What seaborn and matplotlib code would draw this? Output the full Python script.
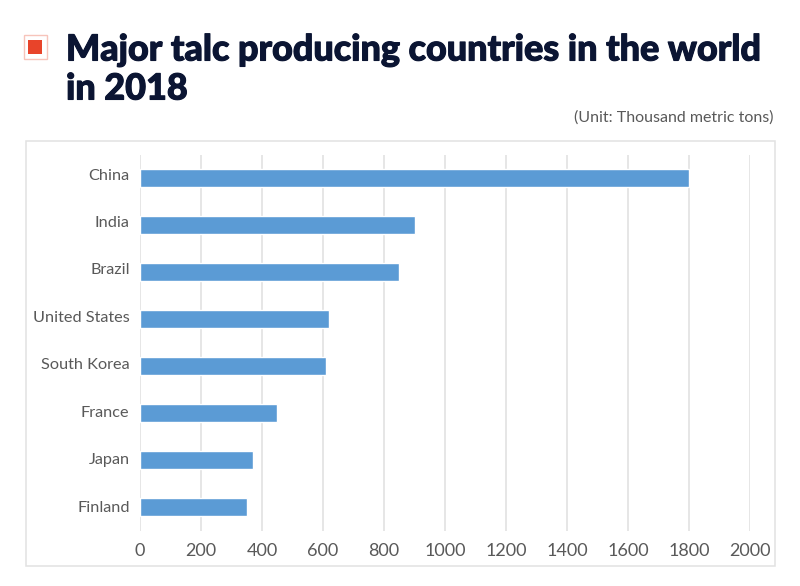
import matplotlib
matplotlib.use("Agg")
import matplotlib.pyplot as plt
from matplotlib.patches import Rectangle
from matplotlib.transforms import ScaledTranslation
import matplotlib.patheffects as pe
import pandas as pd
import seaborn as sns

# values
countries = ["China", "India", "Brazil", "United States", "South Korea", "France", "Japan", "Finland"]
production = [1800, 900, 850, 620, 610, 450, 370, 350]
x_ticks = [0, 200, 400, 600, 800, 1000, 1200, 1400, 1600, 1800, 2000]

W, H = 800, 586
df = pd.DataFrame({"Country": countries, "Production": production})

sns.set_theme(style="whitegrid")
plt.rcParams["font.family"] = ["Lato", "DejaVu Sans"]

fig = plt.figure(figsize=(8, 5.86), dpi=100, facecolor="white")
ax = fig.add_axes([140 / W, 1 - 530.5 / H, 610 / W, 376 / H])

sns.barplot(x="Production", y="Country", data=df, color="#5b9bd5", saturation=1, width=0.4, ax=ax, zorder=3)

ax.set_xlim(0, 2000)
ax.set_xticks(x_ticks)
ax.set_xlabel("")
ax.set_ylabel("")
ax.grid(axis="y", visible=False)
ax.grid(axis="x", color="#e2e2e2", linewidth=1.2)
ax.set_axisbelow(True)
sns.despine(ax=ax, left=True, bottom=True, right=True, top=True)
ax.tick_params(axis="x", labelsize=13, labelcolor="#595959", length=0, pad=9)
ax.tick_params(axis="y", labelsize=11.7, labelcolor="#595959", length=0, pad=7.5)

# country names sit above the bar centres, less so further down
for i, lab in enumerate(ax.get_yticklabels()):
    nudge = ScaledTranslation(0, (4 - 3 * i / 7) / 100, fig.dpi_scale_trans)
    lab.set_transform(lab.get_transform() + nudge)

# outer chart frame
fig.add_artist(Rectangle((25.5 / W, 1 - 566 / H), 749.5 / W, 425.5 / H, fill=False,
                         edgecolor="#e2e2e2", linewidth=1.1, transform=fig.transFigure))

# title marker
fig.add_artist(Rectangle((23.5 / W, 1 - 58.5 / H), 23 / W, 23 / H, fill=False,
                         edgecolor="#f7c4bb", linewidth=1, transform=fig.transFigure))
fig.add_artist(Rectangle((28 / W, 1 - 54 / H), 14 / W, 14 / H, facecolor="#e8442a",
                         edgecolor="none", transform=fig.transFigure))

heavy = [pe.withStroke(linewidth=0.8, foreground="#0b1533")]
fig.text(66 / W, 1 - 50 / H, "Major talc producing countries in the world", fontsize=25.9, fontweight="black",
         color="#0b1533", va="center", ha="left", path_effects=heavy)
fig.text(66 / W, 1 - 89 / H, "in 2018", fontsize=25.9, fontweight="black",
         color="#0b1533", va="center", ha="left", path_effects=heavy)
fig.text(773 / W, 1 - 118 / H, "(Unit: Thousand metric tons)", fontsize=11.5, color="#595959",
         va="center", ha="right")

fig.savefig("out.png", dpi=100, facecolor="white")
